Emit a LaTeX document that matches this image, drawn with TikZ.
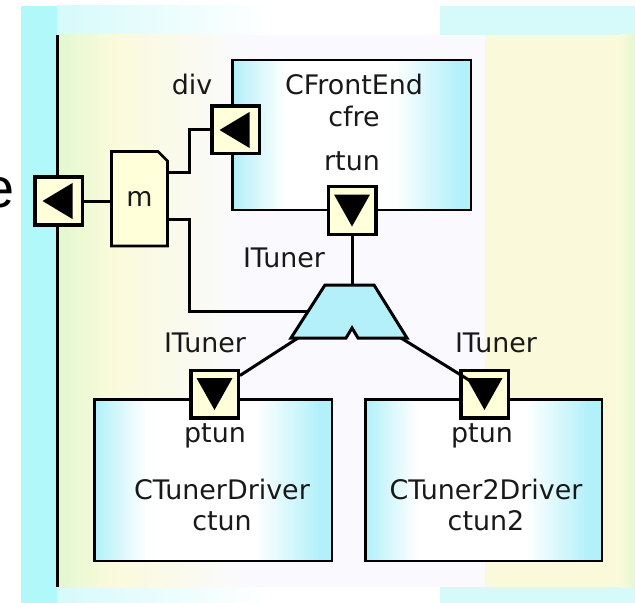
\documentclass[tikz,border=0pt]{standalone}
\usepackage{fontspec}
\setmainfont{DejaVu Sans}
\newfontfamily\efont{Liberation Sans}
\usetikzlibrary{calc}

\definecolor{bgcyan}{RGB}{176,248,250}
\definecolor{bglcyan}{RGB}{214,250,250}
\definecolor{bggreen}{RGB}{226,248,208}
\definecolor{bgyellow}{RGB}{250,250,218}
\definecolor{bgwhite}{RGB}{250,250,254}
\definecolor{boxcyan}{RGB}{178,240,250}
\definecolor{portfill}{RGB}{255,255,218}
\definecolor{muxcyan}{RGB}{180,240,250}
\definecolor{txt}{RGB}{25,25,25}

\pgfdeclarehorizontalshading{boxshade}{100bp}{color(0bp)=(boxcyan); color(25bp)=(boxcyan); color(36bp)=(white); color(59bp)=(white); color(72.5bp)=(boxcyan); color(75bp)=(boxcyan); color(100bp)=(boxcyan)}

\tikzset{
 lbl/.style={font=\fontsize{27}{30}\selectfont, text=txt, inner sep=0pt, anchor=base},
 portbox/.style={draw=black, line width=3.5bp, fill=portfill, minimum size=47.5bp, inner sep=0pt},
 compbox/.style={draw=black, line width=2.5bp, inner sep=0pt, shade, shading=boxshade},
 wire/.style={draw=black, line width=3bp},
}

\newcommand\lefttri[1]{\fill[black] ([shift={(-16,0)}]#1.center) -- ([shift={(14,-18)}]#1.center) -- ([shift={(14,18)}]#1.center) -- cycle;}
\newcommand\downtri[1]{\fill[black] ([shift={(-18,-16)}]#1.center) -- ([shift={(18,-16)}]#1.center) -- ([shift={(0,16)}]#1.center) -- cycle;}

\begin{document}
\begin{tikzpicture}[x=1bp,y=-1bp]
\useasboundingbox (0,0) rectangle (635,603);
% outer background
\fill[bgcyan] (21,6) rectangle (57.5,603);
\shade[left color=bglcyan,right color=white] (57,6) rectangle (270.5,603);
\fill[white] (270,6) rectangle (440.5,603);
\fill[bglcyan] (440,6) rectangle (635,603);
% inner background
\shade[left color=bggreen,right color=bgyellow] (57,35) rectangle (110.5,587);
\shade[left color=bgyellow,right color=bgwhite] (110,35) rectangle (240.5,587);
\fill[bgwhite] (240,35) rectangle (485.5,587);
\fill[bgyellow] (485,35) rectangle (620.5,587);
\shade[left color=bgyellow,right color=bggreen] (620,35) rectangle (635,587);
\draw[line width=3bp] (57,35) -- (57,587);

% cut-off text
\node[font=\efont\fontsize{56}{60}\selectfont, text=black, inner sep=0pt, anchor=base east] (e) at (15,207) {e};

% components
\node[compbox, minimum width=238.5bp, minimum height=149.5bp] (cfre) at (351.5,135) {};
\node[compbox, minimum width=237.5bp, minimum height=161.5bp] (ctun) at (213,480) {};
\node[compbox, minimum width=236.5bp, minimum height=161.5bp] (ctun2) at (483.5,480) {};

% m
\filldraw[fill=portfill, draw=black, line width=2.8bp, line join=miter] (111.5,151.5) -- (158,151.5) -- (167.5,161) -- (167.5,246) -- (111.5,246) -- cycle;
\node[inner sep=0pt, minimum width=56bp, minimum height=94.5bp, font=\fontsize{27}{30}\selectfont, text=txt] (m) at (139.5,198.5) {m};

% multiplexer
\filldraw[fill=muxcyan, draw=black, line width=3bp, line join=miter] (325,285) -- (374,285) -- (407,338) -- (358,338) -- (352,328) -- (346,338) -- (291,338) -- cycle;
\coordinate (muxtop) at (352,285);
\coordinate (muxl) at (308,311);
\coordinate (muxbl) at (298,338);
\coordinate (muxbr) at (401,338);

% ports
\node[portbox] (lp) at (58.5,201) {};
\node[portbox] (div) at (235.5,130) {};
\node[portbox] (rtun) at (352,210.5) {};
\node[portbox] (p1) at (214.5,394) {};
\node[portbox] (p2) at (484.5,394) {};

% wires
\coordinate (j1) at (189,173);
\coordinate (j2) at (189,219);
\draw[wire] (lp.east) -- (m.west |- lp.east);
\draw[wire] (m.east |- j1) -- (j1) |- (div.west);
\draw[wire] (m.east |- j2) -- (j2) |- (muxl);
\draw[wire] (rtun.south) -- (muxtop);
\draw[wire] (muxbl) -- ([yshift=-7bp]p1.north east);
\draw[wire] (muxbr) -- ([shift={(-14,-13)}]p2.center);

% triangles
\lefttri{lp}
\lefttri{div}
\downtri{rtun}
\downtri{p1}
\downtri{p2}

% labels
\node[lbl] (ldiv) at (192,95) {div};
\node[lbl] (lcfe) at (354,95) {CFrontEnd};
\node[lbl] (lcfre) at (354,127) {cfre};
\node[lbl] (lrtun) at (352,171) {rtun};
\node[lbl] (lit0) at (284,267) {ITuner};
\node[lbl] (lit1) at (205,352) {ITuner};
\node[lbl] (lit2) at (496,352) {ITuner};
\node[lbl] (lpt1) at (215,442) {ptun};
\node[lbl] (lpt2) at (482,442) {ptun};
\node[lbl] (lctd) at (222,499) {CTunerDriver};
\node[lbl] (lct) at (222,530) {ctun};
\node[lbl] (lct2d) at (486,499) {CTuner2Driver};
\node[lbl] (lct2) at (486,530) {ctun2};
\end{tikzpicture}
\end{document}
